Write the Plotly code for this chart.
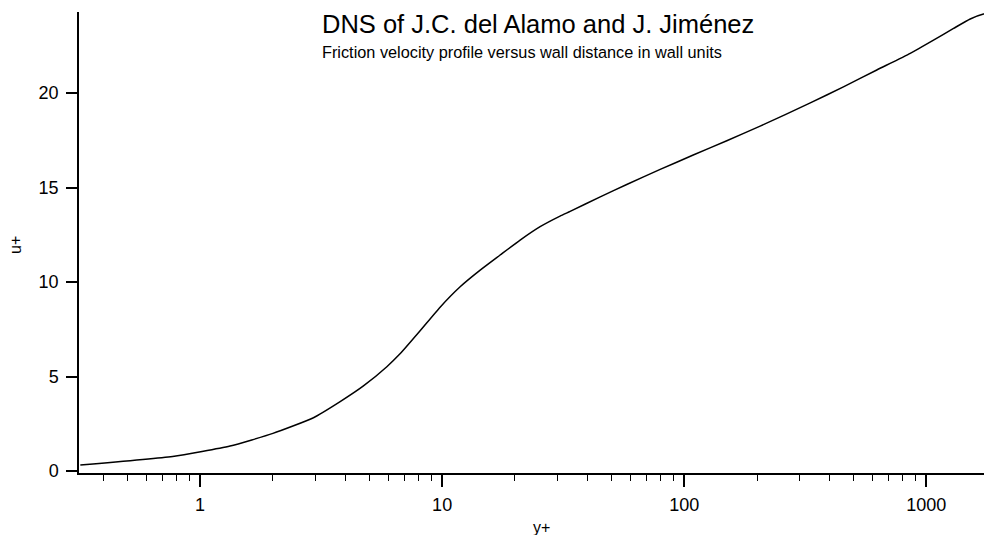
import plotly.graph_objects as go
import numpy as np

# Data
y_plus = [0.32, 0.77, 1.33, 2.0, 2.94, 3.79, 4.73, 5.91, 6.70, 8.11, 9.81,
          11.87, 14.36, 17.37, 21.0, 25.4, 30.7, 33.8, 45.0, 57.9, 79.6, 109, 150, 206,
          332, 455, 625, 859, 1072, 1297, 1520, 1725, 1868]
u_plus = [0.32, 0.77, 1.32, 1.99, 2.82, 3.67, 4.50, 5.52, 6.20, 7.42, 8.67,
          9.75, 10.63, 11.43, 12.22, 12.93, 13.49, 13.74, 14.51, 15.16, 15.96, 16.72, 17.48, 18.25,
          19.48, 20.33, 21.22, 22.10, 22.80, 23.42, 23.92, 24.18, 24.25]

x_major_vals = [1, 10, 100, 1000]
x_major_text = ["1", "10", "100", "1000"]
x_minor_vals = [0.4, 0.5, 0.6, 0.7, 0.8, 0.9,
                2, 3, 4, 5, 6, 7, 8, 9,
                20, 30, 40, 50, 60, 70, 80, 90,
                200, 300, 400, 500, 600, 700, 800, 900]
y_tick_vals = [0, 5, 10, 15, 20]

title_text = "DNS of J.C. del Alamo and J. Jiménez"
subtitle_text = "Friction velocity profile versus wall distance in wall units"
x_title = "y+"
y_title = "u+"

FONT = "Liberation Sans"

# the page body adds an 8px offset; compensate so the plot lands where the reference has it
OFF = 8
L, R, T, B = 79 - OFF, 0, 12 - OFF, 62
W, H = 992 - OFF, 535 - OFF
PW, PH = W - L - R, H - T - B

fig = go.Figure()
fig.add_trace(go.Scatter(x=y_plus, y=u_plus, mode="lines",
                         line=dict(color="black", width=1.5, shape="spline", smoothing=0.5),
                         showlegend=False, hoverinfo="skip"))

fig.update_layout(
    width=W, height=H,
    margin=dict(l=L, r=R, t=T, b=B),
    paper_bgcolor="white", plot_bgcolor="white",
    font=dict(family=FONT, size=15, color="black"),
    showlegend=False,
)

fig.update_xaxes(
    type="log",
    range=[np.log10(0.316), np.log10(1870)],
    automargin=False,
    showgrid=False, zeroline=False,
    showline=True, linecolor="black", linewidth=1.5,
    tickmode="array", tickvals=x_major_vals, ticktext=x_major_text,
    ticks="outside", ticklen=12, tickwidth=1.5, tickcolor="black",
    ticklabelstandoff=3,
    minor=dict(tickmode="array", tickvals=x_minor_vals, ticks="outside",
               ticklen=6, tickwidth=1.2, tickcolor="black", showgrid=False),
    tickfont=dict(size=18),
)
fig.update_yaxes(
    range=[-0.106, 24.29],
    automargin=False,
    showgrid=False, zeroline=False,
    showline=True, linecolor="black", linewidth=1.5,
    tickmode="array", tickvals=y_tick_vals,
    ticks="outside", ticklen=11, tickwidth=1.5, tickcolor="black",
    ticklabelstandoff=4,
    tickfont=dict(size=18),
)

def px_to_paper_x(px):
    return (px - OFF - L) / PW

def px_to_paper_y(py):
    return 1 - (py - OFF - T) / PH

# axis titles
fig.add_annotation(text=x_title, xref="paper", yref="paper",
                   x=px_to_paper_x(541), y=px_to_paper_y(527),
                   xanchor="center", yanchor="middle", showarrow=False,
                   font=dict(size=16, family=FONT))
fig.add_annotation(text=y_title, xref="paper", yref="paper",
                   x=px_to_paper_x(15), y=px_to_paper_y(245), textangle=-90,
                   xanchor="center", yanchor="middle", showarrow=False,
                   font=dict(size=16, family=FONT))

# title block
fig.add_annotation(text=title_text, xref="paper", yref="paper",
                   x=px_to_paper_x(320), y=px_to_paper_y(8),
                   xanchor="left", yanchor="top",
                   showarrow=False, font=dict(size=25.5, family=FONT))
fig.add_annotation(text=subtitle_text, xref="paper", yref="paper",
                   x=px_to_paper_x(320), y=px_to_paper_y(41),
                   xanchor="left", yanchor="top",
                   showarrow=False, font=dict(size=16.3, family=FONT))

fig.write_html("out.html")
